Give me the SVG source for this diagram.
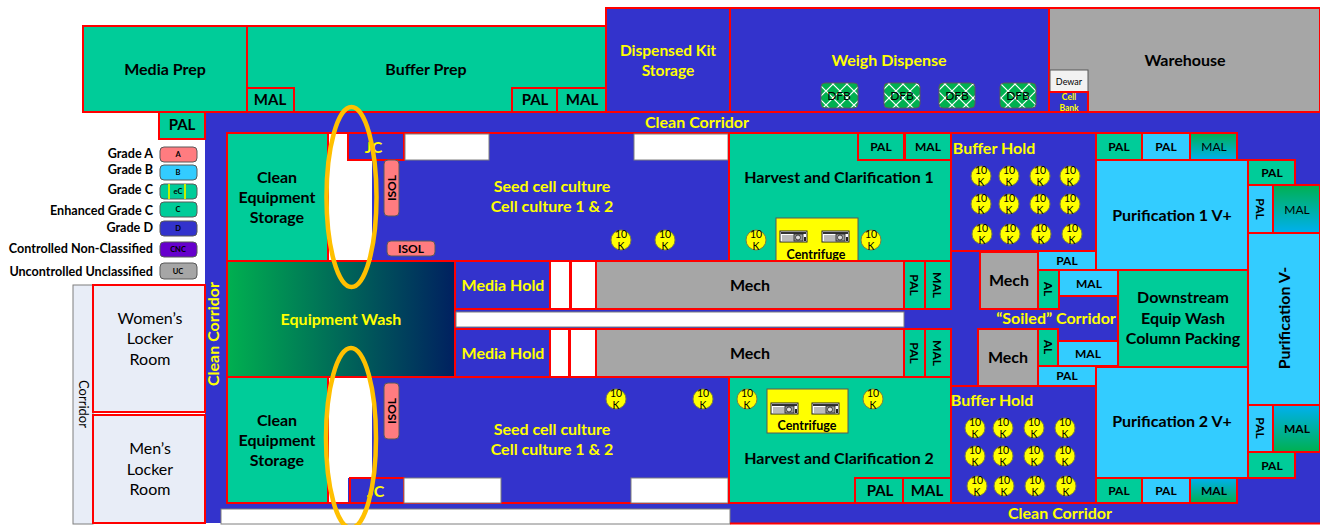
<svg xmlns="http://www.w3.org/2000/svg" width="1320" height="525" viewBox="0 0 1320 525">
<style>
text{font-family:Lato,"Liberation Sans",sans-serif;font-weight:700;text-anchor:middle;fill:#000}
.r{stroke:#f00;stroke-width:2}
.g{fill:#00cc99}.b{fill:#3333cc}.l{fill:#33ccff}.u{fill:#a6a6a6}.w{fill:#fff}
.y{fill:#ff0}
.f12{font-size:12px}.f13{font-size:13px}.f14{font-size:15px}.f15{font-size:16px}
.f14.y{font-size:16px}
.cap{font-size:12.6px;text-anchor:end}
.pill{stroke:#595959;stroke-width:1}
.pt{font-size:7.5px}
.ten circle{fill:#ff0;stroke:#7f7f3f;stroke-width:1}
.ten text{font-size:10.5px;font-weight:400}
.wb{fill:#fff;stroke:#7f7f7f;stroke-width:1}
.oval{fill:none;stroke:#ffc000;stroke-width:4.5}
</style>
<defs>
<linearGradient id="wash" x1="0" x2="1" y1="0" y2="0"><stop offset="0" stop-color="#00b050"/><stop offset="1" stop-color="#002060"/></linearGradient>
<linearGradient id="gb" x1="0" x2="0" y1="0" y2="1"><stop offset="0" stop-color="#00b050"/><stop offset="1" stop-color="#00b0f0"/></linearGradient>
<linearGradient id="bg" x1="0" x2="0" y1="0" y2="1"><stop offset="0" stop-color="#00b0f0"/><stop offset="1" stop-color="#00b050"/></linearGradient>
<pattern id="lat" width="14" height="14" patternUnits="userSpaceOnUse"><rect width="14" height="14" fill="#00b050"/><path d="M0 7L7 0L14 7L7 14Z" fill="none" stroke="#fff" stroke-width="1.1"/></pattern>
<g id="centIcon"><rect x="0" y="0" width="27" height="11" fill="#fff" stroke="#222" stroke-width="1"/><rect x="1" y="1" width="25" height="2" fill="#333"/><rect x="2" y="4" width="12" height="6" fill="#bbb"/><rect x="14" y="3" width="9" height="7" fill="#999" stroke="#222" stroke-width=".8"/><circle cx="18" cy="6.5" r="2.5" fill="#ddd" stroke="#222" stroke-width=".8"/><rect x="24" y="6" width="2" height="4" fill="#222"/></g>
</defs>

<rect id="corridor-bg" x="205" y="112" width="1115" height="411" class="b"/>

<g id="legend">
<text class="cap" x="153" y="158">Grade A</text><rect class="pill" x="160" y="147" width="37" height="15" rx="4" fill="#ff7c80"/><text class="pt" x="178" y="157">A</text>
<text class="cap" x="153" y="174">Grade B</text><rect class="pill" x="160" y="165" width="37" height="15" rx="4" fill="#33ccff"/><text class="pt" x="178" y="175">B</text>
<text class="cap" x="153" y="194">Grade C</text><rect class="pill" x="160" y="184" width="37" height="15" rx="4" fill="#00cc99"/><rect x="168" y="184" width="2" height="15" fill="#c8f000"/><rect x="184" y="184" width="2" height="15" fill="#c8f000"/><text class="pt" x="178" y="194">eC</text>
<text class="cap" x="153" y="215">Enhanced Grade C</text><rect class="pill" x="160" y="202" width="37" height="15" rx="4" fill="#00cc99"/><text class="pt" x="178" y="212">C</text>
<text class="cap" x="153" y="232">Grade D</text><rect class="pill" x="160" y="221" width="37" height="15" rx="4" fill="#3333cc"/><text class="pt" x="178" y="231">D</text>
<text class="cap" x="153" y="253">Controlled Non-Classified</text><rect class="pill" x="160" y="242" width="37" height="15" rx="4" fill="#6600cc"/><text class="pt" x="178" y="252">CNC</text>
<text class="cap" x="153" y="276">Uncontrolled Unclassified</text><rect class="pill" x="160" y="263" width="37" height="16" rx="4" fill="#a6a6a6"/><text class="pt" x="178" y="274">UC</text>
</g>

<g id="connectors"></g>

<g id="corridor-left"><rect x="73" y="285" width="20" height="239" fill="#e8edf7" stroke="#7f7f7f" stroke-width="1"/><text transform="translate(79 404) rotate(90)" style="font-weight:400" class="f13">Corridor</text></g>
<g id="womens"><rect class="r" x="93" y="285" width="112" height="127" fill="#e8edf7"/><text class="f15" style="font-weight:400"><tspan x="150" y="324">Women’s</tspan><tspan x="150" y="344">Locker</tspan><tspan x="150" y="365">Room</tspan></text></g>
<g id="mens"><rect class="r" x="93" y="415" width="112" height="108" fill="#e8edf7"/><text class="f15" style="font-weight:400"><tspan x="150" y="454">Men’s</tspan><tspan x="150" y="475">Locker</tspan><tspan x="150" y="495">Room</tspan></text></g>

<g id="media-prep"><rect class="r g" x="83" y="26" width="164" height="86"/><text class="f15" x="165" y="75">Media Prep</text></g>
<g id="buffer-prep"><rect class="r g" x="247" y="26" width="359" height="86"/><text class="f15" x="426" y="75">Buffer Prep</text></g>
<g id="mal-bp1"><rect class="r g" x="247" y="88" width="47" height="24"/><text class="f14" x="270" y="105">MAL</text></g>
<g id="pal-bp"><rect class="r g" x="512" y="88" width="45" height="24"/><text class="f14" x="535" y="105">PAL</text></g>
<g id="mal-bp2"><rect class="r g" x="557" y="88" width="49" height="24"/><text class="f14" x="582" y="105">MAL</text></g>
<g id="pal-top"><rect class="r g" x="159" y="112" width="46" height="27"/><text class="f14" x="182" y="130">PAL</text></g>

<g id="kit"><rect class="r b" x="606" y="8" width="124" height="104"/><text class="y" style="font-size:15.5px"><tspan x="668" y="56">Dispensed Kit</tspan><tspan x="668" y="76">Storage</tspan></text></g>
<g id="weigh"><rect class="r b" x="730" y="8" width="319" height="104"/><text class="f14 y" x="889" y="66">Weigh Dispense</text>
<rect x="821" y="83" width="37" height="25" rx="4" fill="url(#lat)" stroke="#595959"/><text class="f12" x="839" y="100" style="font-weight:400">DFB</text>
<rect x="884" y="83" width="36" height="25" rx="4" fill="url(#lat)" stroke="#595959"/><text class="f12" x="902" y="100" style="font-weight:400">DFB</text>
<rect x="939" y="83" width="36" height="25" rx="4" fill="url(#lat)" stroke="#595959"/><text class="f12" x="957" y="100" style="font-weight:400">DFB</text>
<rect x="1000" y="83" width="36" height="25" rx="4" fill="url(#lat)" stroke="#595959"/><text class="f12" x="1018" y="100" style="font-weight:400">DFB</text></g>
<g id="warehouse"><rect class="r u" x="1049" y="8" width="271" height="104"/><text class="f15" x="1185" y="66">Warehouse</text></g>
<g id="dewar"><rect x="1050" y="70" width="38" height="22" fill="#f2f2f2" stroke="#595959"/><text x="1069" y="85" style="font-size:9px;font-weight:400">Dewar</text></g>
<g id="cell-bank"><rect class="r b" x="1049" y="92" width="39" height="20"/><text class="y" style="font-size:8.5px"><tspan x="1069" y="100">Cell</tspan><tspan x="1069" y="111">Bank</tspan></text></g>
<text id="clean-corridor-top" class="f14 y" x="697" y="128">Clean Corridor</text>

<g id="seed-1"><rect class="r b" x="227" y="133" width="502" height="128"/><rect x="329" y="134" width="43" height="126" class="w"/><text class="f14 y"><tspan x="552" y="192">Seed cell culture</tspan><tspan x="552" y="212">Cell culture  1 &amp; 2</tspan></text></g>
<g id="jc-1"><rect class="r b" x="348" y="133" width="56" height="27"/><text class="f15 y" x="373.500" y="153">JC</text></g>
<rect x="405" y="134" width="84" height="26" class="wb"/>
<rect x="634" y="134" width="94" height="26" class="wb"/>
<g id="ces-1"><rect class="r g" x="227" y="133" width="101" height="128"/><text class="f15"><tspan x="277" y="183">Clean</tspan><tspan x="277" y="203">Equipment</tspan><tspan x="277" y="223">Storage</tspan></text></g>
<g id="isol-1"><rect class="pill" x="384" y="160" width="15" height="56" rx="4" fill="#ff7c80"/><text class="f12" transform="translate(396 188) rotate(-90)">ISOL</text></g>
<g id="isol-2"><rect class="pill" x="387" y="241" width="48" height="15" rx="4" fill="#ff7c80"/><text class="f12" x="411" y="253">ISOL</text></g>

<g id="harvest-1"><rect class="r g" x="729" y="133" width="222" height="128"/><text class="f15" x="839" y="183">Harvest and Clarification 1</text></g>
<g id="pal-h1"><rect class="r g" x="858" y="133" width="46" height="27"/><text class="f12" x="881" y="151">PAL</text></g>
<g id="mal-h1"><rect class="r g" x="905" y="133" width="46" height="27"/><text class="f12" x="928" y="151">MAL</text></g>
<g id="centrifuge-1"><rect x="776" y="218" width="82" height="43" class="y" stroke="#595959"/><use href="#centIcon" x="780" y="231"/><use href="#centIcon" x="822" y="231"/><text style="font-size:12.5px" x="816" y="259">Centrifuge</text></g>

<g id="buffer-hold-1"><rect class="r b" x="951" y="133" width="145" height="118"/><text class="f14 y" x="994" y="154">Buffer Hold</text></g>

<g id="pal-t1"><rect class="r g" x="1096" y="133" width="46" height="27"/><text class="f12" x="1119" y="151">PAL</text></g>
<g id="pal-t2"><rect class="r l" x="1142" y="133" width="48" height="27"/><text class="f12" x="1166" y="151">PAL</text></g>
<g id="mal-t"><rect class="r" fill="url(#gb)" x="1190" y="133" width="47" height="27"/><text class="f12" x="1214" y="151" style="font-weight:400">MAL</text></g>
<g id="purif-1"><rect class="r l" x="1096" y="160" width="152" height="110"/><text class="f15" x="1172" y="221">Purification 1 V+</text></g>
<g id="pal-r1"><rect class="r g" x="1248" y="160" width="47" height="25"/><text class="f12" x="1272" y="177">PAL</text></g>
<g id="pal-r2"><rect class="r l" x="1248" y="185" width="25" height="48"/><text class="f12" transform="translate(1256 209) rotate(90)">PAL</text></g>
<g id="mal-r1"><rect class="r" fill="url(#gb)" x="1273" y="185" width="47" height="48"/><text class="f12" x="1297" y="214" style="font-weight:400">MAL</text></g>
<g id="purif-v"><rect class="r l" x="1248" y="233" width="72" height="172"/><text class="f15" transform="translate(1290 318) rotate(-90)">Purification V-</text></g>
<g id="pal-r3"><rect class="r l" x="1248" y="405" width="25" height="47"/><text class="f12" transform="translate(1256 428) rotate(90)">PAL</text></g>
<g id="mal-r2"><rect class="r" fill="url(#bg)" x="1273" y="405" width="47" height="47"/><text class="f12" x="1297" y="433">MAL</text></g>
<g id="pal-r4"><rect class="r g" x="1248" y="452" width="47" height="26"/><text class="f12" x="1272" y="470">PAL</text></g>

<g id="mech-r1"><rect class="r u" x="980" y="252" width="58" height="57"/><text class="f15" x="1009" y="286">Mech</text></g>
<g id="pal-m1"><rect class="r l" x="1038" y="251" width="58" height="19"/><text class="f12" x="1067" y="265">PAL</text></g>
<g id="al-1"><rect class="r g" x="1038" y="270" width="21" height="39"/><text class="f12" transform="translate(1044 289) rotate(90)">AL</text></g>
<g id="mal-m1"><rect class="r l" x="1059" y="270" width="59" height="26"/><text class="f12" x="1089" y="288">MAL</text></g>
<text id="soiled" class="f14 y" x="1056" y="324">“Soiled” Corridor</text>
<g id="downstream"><rect class="r g" x="1118" y="270" width="130" height="97"/><text class="f15"><tspan x="1183" y="303">Downstream</tspan><tspan x="1183" y="324">Equip Wash</tspan><tspan x="1183" y="344">Column Packing</tspan></text></g>
<g id="mech-r2"><rect class="r u" x="978" y="329" width="60" height="57"/><text class="f15" x="1008" y="363">Mech</text></g>
<g id="al-2"><rect class="r g" x="1038" y="329" width="20" height="37"/><text class="f12" transform="translate(1044 347) rotate(90)">AL</text></g>
<g id="mal-m2"><rect class="r l" x="1058" y="341" width="60" height="25"/><text class="f12" x="1088" y="358">MAL</text></g>
<g id="pal-m2"><rect class="r l" x="1038" y="366" width="58" height="20"/><text class="f12" x="1067" y="380">PAL</text></g>

<g id="wash-room"><rect class="r" fill="url(#wash)" x="227" y="261" width="228" height="116"/><text class="f14 y" x="341" y="325">Equipment Wash</text></g>
<g id="media-hold-1"><rect class="r b" x="455" y="261" width="95" height="48"/><text class="f14 y" x="503" y="291">Media Hold</text></g>
<rect x="550" y="261" width="20" height="48" class="r w"/>
<rect x="571" y="261" width="25" height="48" class="r w"/>
<g id="mech-1"><rect class="r u" x="596" y="261" width="308" height="48"/><text class="f15" x="750" y="291">Mech</text></g>
<g id="pal-c1"><rect class="r g" x="904" y="261" width="21" height="48"/><text class="f12" transform="translate(910 285) rotate(90)">PAL</text></g>
<g id="mal-c1"><rect class="r g" x="925" y="261" width="26" height="48"/><text class="f12" transform="translate(933 285) rotate(90)">MAL</text></g>
<rect x="456" y="312" width="448" height="15" class="wb"/>
<g id="media-hold-2"><rect class="r b" x="455" y="329" width="95" height="48"/><text class="f14 y" x="503" y="359">Media Hold</text></g>
<rect x="550" y="329" width="19" height="48" class="r w"/>
<rect x="570" y="329" width="26" height="48" class="r w"/>
<g id="mech-2"><rect class="r u" x="596" y="329" width="308" height="48"/><text class="f15" x="750" y="359">Mech</text></g>
<g id="pal-c2"><rect class="r g" x="904" y="329" width="21" height="48"/><text class="f12" transform="translate(910 353) rotate(90)">PAL</text></g>
<g id="mal-c2"><rect class="r g" x="925" y="329" width="26" height="48"/><text class="f12" transform="translate(933 353) rotate(90)">MAL</text></g>

<g id="seed-2"><rect class="r b" x="227" y="377" width="502" height="126"/><rect x="329" y="378" width="43" height="100" class="w"/><rect x="329" y="478" width="19" height="24" class="w"/><text class="f14 y"><tspan x="552" y="435">Seed cell culture</tspan><tspan x="552" y="455">Cell culture  1 &amp; 2</tspan></text></g>
<g id="jc-2"><rect class="r b" x="350" y="478" width="54" height="25"/><text class="f15 y" x="375.500" y="497">JC</text></g>
<rect x="404" y="478" width="97" height="25" class="wb"/>
<rect x="631" y="478" width="97" height="25" class="wb"/>
<g id="ces-2"><rect class="r g" x="227" y="377" width="101" height="126"/><text class="f15"><tspan x="277" y="426">Clean</tspan><tspan x="277" y="446">Equipment</tspan><tspan x="277" y="466">Storage</tspan></text></g>
<g id="isol-3"><rect class="pill" x="384" y="383" width="15" height="56" rx="4" fill="#ff7c80"/><text class="f12" transform="translate(396 411) rotate(-90)">ISOL</text></g>

<g id="harvest-2"><rect class="r g" x="729" y="377" width="222" height="126"/><text class="f15" x="839" y="464">Harvest and Clarification 2</text></g>
<g id="pal-h2"><rect class="r g" x="855" y="478" width="48" height="25"/><text class="f14" x="880" y="496">PAL</text></g>
<g id="mal-h2"><rect class="r g" x="903" y="478" width="48" height="25"/><text class="f14" x="927" y="496">MAL</text></g>
<g id="centrifuge-2"><rect x="767" y="389" width="81" height="44" class="y" stroke="#595959"/><use href="#centIcon" x="771" y="403"/><use href="#centIcon" x="812" y="403"/><text style="font-size:12.5px" x="807" y="430">Centrifuge</text></g>

<g id="buffer-hold-2"><rect class="r b" x="951" y="386" width="145" height="117"/><text class="f14 y" x="992" y="406">Buffer Hold</text></g>
<g id="purif-2"><rect class="r l" x="1096" y="367" width="152" height="111"/><text class="f15" x="1172" y="427">Purification 2 V+</text></g>
<g id="pal-b1"><rect class="r g" x="1096" y="478" width="46" height="25"/><text class="f12" x="1119" y="495">PAL</text></g>
<g id="pal-b2"><rect class="r l" x="1142" y="478" width="48" height="25"/><text class="f12" x="1166" y="495">PAL</text></g>
<g id="mal-b"><rect class="r" fill="url(#bg)" x="1190" y="478" width="47" height="25"/><text class="f12" x="1214" y="495">MAL</text></g>
<rect x="221" y="509" width="509" height="15" class="wb"/>
<path d="M730 523.500H1320" stroke="#f00" stroke-width="2"/>
<text id="clean-corridor-bottom" class="f14 y" x="1060" y="519">Clean Corridor</text>
<text id="clean-corridor-left" class="f14 y" transform="translate(219 334) rotate(-90)">Clean Corridor</text>

<g id="vessels" class="ten">
<g><circle cx="621" cy="240" r="10"/><text x="621" y="238">10</text><text x="621" y="250">K</text></g>
<g><circle cx="665" cy="240" r="10"/><text x="665" y="238">10</text><text x="665" y="250">K</text></g>
<g><circle cx="756" cy="240" r="10"/><text x="756" y="238">10</text><text x="756" y="250">K</text></g>
<g><circle cx="871" cy="240" r="10"/><text x="871" y="238">10</text><text x="871" y="250">K</text></g>
<g><circle cx="981" cy="176" r="10"/><text x="981" y="174">10</text><text x="981" y="186">K</text></g>
<g><circle cx="1009" cy="176" r="10"/><text x="1009" y="174">10</text><text x="1009" y="186">K</text></g>
<g><circle cx="1040" cy="176" r="10"/><text x="1040" y="174">10</text><text x="1040" y="186">K</text></g>
<g><circle cx="1070" cy="176" r="10"/><text x="1070" y="174">10</text><text x="1070" y="186">K</text></g>
<g><circle cx="981" cy="204" r="10"/><text x="981" y="202">10</text><text x="981" y="214">K</text></g>
<g><circle cx="1009" cy="204" r="10"/><text x="1009" y="202">10</text><text x="1009" y="214">K</text></g>
<g><circle cx="1040" cy="204" r="10"/><text x="1040" y="202">10</text><text x="1040" y="214">K</text></g>
<g><circle cx="1070" cy="204" r="10"/><text x="1070" y="202">10</text><text x="1070" y="214">K</text></g>
<g><circle cx="982" cy="234" r="10"/><text x="982" y="232">10</text><text x="982" y="244">K</text></g>
<g><circle cx="1010" cy="234" r="10"/><text x="1010" y="232">10</text><text x="1010" y="244">K</text></g>
<g><circle cx="1041" cy="234" r="10"/><text x="1041" y="232">10</text><text x="1041" y="244">K</text></g>
<g><circle cx="1072" cy="234" r="10"/><text x="1072" y="232">10</text><text x="1072" y="244">K</text></g>
<g><circle cx="616" cy="399" r="10"/><text x="616" y="397">10</text><text x="616" y="409">K</text></g>
<g><circle cx="703" cy="399" r="10"/><text x="703" y="397">10</text><text x="703" y="409">K</text></g>
<g><circle cx="747" cy="399" r="10"/><text x="747" y="397">10</text><text x="747" y="409">K</text></g>
<g><circle cx="873" cy="399" r="10"/><text x="873" y="397">10</text><text x="873" y="409">K</text></g>
<g><circle cx="975" cy="428" r="10"/><text x="975" y="426">10</text><text x="975" y="438">K</text></g>
<g><circle cx="1003" cy="428" r="10"/><text x="1003" y="426">10</text><text x="1003" y="438">K</text></g>
<g><circle cx="1034" cy="428" r="10"/><text x="1034" y="426">10</text><text x="1034" y="438">K</text></g>
<g><circle cx="1065" cy="428" r="10"/><text x="1065" y="426">10</text><text x="1065" y="438">K</text></g>
<g><circle cx="975" cy="456" r="10"/><text x="975" y="454">10</text><text x="975" y="466">K</text></g>
<g><circle cx="1003" cy="456" r="10"/><text x="1003" y="454">10</text><text x="1003" y="466">K</text></g>
<g><circle cx="1034" cy="456" r="10"/><text x="1034" y="454">10</text><text x="1034" y="466">K</text></g>
<g><circle cx="1065" cy="456" r="10"/><text x="1065" y="454">10</text><text x="1065" y="466">K</text></g>
<g><circle cx="977" cy="486" r="10"/><text x="977" y="484">10</text><text x="977" y="496">K</text></g>
<g><circle cx="1004" cy="486" r="10"/><text x="1004" y="484">10</text><text x="1004" y="496">K</text></g>
<g><circle cx="1035" cy="486" r="10"/><text x="1035" y="484">10</text><text x="1035" y="496">K</text></g>
<g><circle cx="1066" cy="486" r="10"/><text x="1066" y="484">10</text><text x="1066" y="496">K</text></g>
</g>

<ellipse id="oval-1" class="oval" cx="351.500" cy="197" rx="25" ry="90"/>
<ellipse id="oval-2" class="oval" cx="351" cy="438" rx="25" ry="90"/>
</svg>
